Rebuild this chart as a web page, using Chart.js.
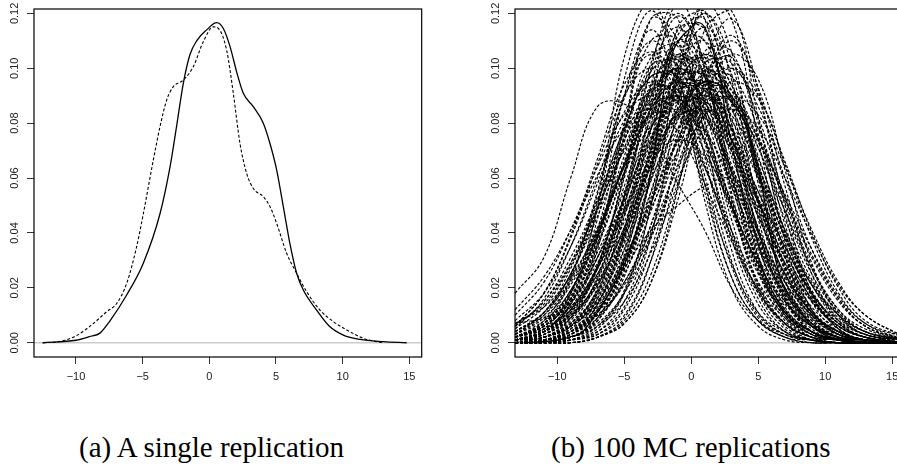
<!DOCTYPE html>
<html>
<head>
<meta charset="utf-8">
<script src="https://cdn.jsdelivr.net/npm/chart.js@4.4.1/dist/chart.umd.min.js"></script>
<style>
  html, body { margin: 0; padding: 0; background: #fff; }
  body { width: 897px; height: 468px; overflow: hidden; position: relative; }
  canvas { position: absolute; top: 0; }
  #panelA { left: 0; }
  #panelB { left: 475px; }
  .caption { position: absolute; top: 433px; font-family: "Liberation Serif", serif; font-size: 29px; line-height: 29px; color: #000; white-space: nowrap; }
</style>
</head>
<body>
<canvas id="panelA" width="424" height="387"></canvas>
<canvas id="panelB" width="432" height="387"></canvas>
<div class="caption" style="left:79px">(a) A single replication</div>
<div class="caption" style="left:551px">(b) 100 MC replications</div>
<script>
// axis limits and tick labels (same for both panels)
var xMin = -13.15, xMax = 15.93;
var yMin = -0.0052, yMax = 0.1216;
var xTicks = [-10, -5, 0, 5, 10, 15];
var yTicks = [0, 0.02, 0.04, 0.06, 0.08, 0.10, 0.12];

// panel (a): true density (solid) and one estimate (dashed)
var trueX = [-12.5, -10, -9, -8.2, -7.45, -6.2, -4.95, -3.7, -2.95, -2.45, -1.95, -1.45, -0.95, -0.2, 0.55, 1.05, 1.55, 2.05, 2.55, 3.3, 4.05, 4.55, 5.05, 5.55, 6.05, 6.55, 7.05, 8.05, 9.05, 10.05, 11.3, 13.05, 14.8];
var trueY = [0, 0.0009, 0.0022, 0.0035, 0.0080, 0.0174, 0.029, 0.047, 0.064, 0.079, 0.0945, 0.105, 0.110, 0.114, 0.1166, 0.1145, 0.108, 0.0987, 0.0909, 0.086, 0.080, 0.0726, 0.063, 0.0496, 0.036, 0.0253, 0.0192, 0.0119, 0.0058, 0.0028, 0.0012, 0.0004, 0];
var estX = [-12.5, -11.45, -10, -8.7, -7.7, -6.95, -6.2, -5.45, -4.95, -4.2, -3.7, -3.2, -2.7, -1.95, -1.2, -0.45, 0.3, 0.68, 1.3, 1.8, 2.3, 2.8, 3.3, 4.05, 4.55, 5.05, 5.8, 6.55, 7.3, 8.3, 9.3, 10.55, 11.55, 12.55, 13.05];
var estY = [0, 0.0003, 0.0025, 0.007, 0.0113, 0.0143, 0.0216, 0.035, 0.047, 0.0666, 0.0787, 0.0884, 0.0933, 0.0957, 0.1006, 0.1097, 0.1151, 0.1145, 0.1066, 0.0909, 0.0726, 0.0617, 0.0562, 0.0532, 0.0496, 0.0435, 0.0326, 0.0253, 0.0186, 0.0119, 0.0077, 0.004, 0.0016, 0.0004, 0];

// panel (b): 100 Monte Carlo estimates read on a common x grid
var mcX = [-13.15, -11, -9, -7, -5, -3, -1, 1, 3, 5, 7, 9, 11, 13, 15.93];
var mcCurves = [
  [0.006,0.018,0.038,0.065,0.090,0.100,0.090,0.065,0.038,0.018,0.007,0.002,0.001,0,0],
  [0.010,0.022,0.041,0.064,0.083,0.090,0.083,0.064,0.041,0.022,0.010,0.004,0.001,0,0],
  [0.002,0.007,0.023,0.054,0.090,0.110,0.096,0.061,0.028,0.009,0.002,0.001,0,0,0],
  [0.001,0.005,0.018,0.049,0.096,0.121,0.098,0.052,0.020,0.006,0.001,0,0,0,0],
  [0.005,0.016,0.035,0.060,0.084,0.095,0.087,0.064,0.039,0.019,0.007,0.002,0.001,0,0],
  [0.012,0.024,0.041,0.061,0.078,0.085,0.077,0.058,0.037,0.020,0.009,0.003,0.001,0,0],
  [0.002,0.008,0.024,0.055,0.089,0.105,0.089,0.055,0.024,0.008,0.002,0,0,0,0],
  [0.006,0.018,0.039,0.067,0.094,0.106,0.095,0.069,0.041,0.019,0.007,0.002,0.001,0,0],
  [0.004,0.011,0.027,0.051,0.078,0.097,0.097,0.078,0.051,0.027,0.011,0.004,0.001,0,0],
  [0.003,0.010,0.025,0.049,0.077,0.099,0.103,0.086,0.057,0.030,0.012,0.004,0.001,0,0],
  [0.006,0.015,0.031,0.052,0.074,0.088,0.088,0.074,0.052,0.031,0.015,0.006,0.002,0.001,0],
  [0.008,0.018,0.035,0.058,0.081,0.094,0.090,0.073,0.050,0.029,0.014,0.006,0.002,0.001,0],
  [0.001,0.004,0.016,0.041,0.080,0.110,0.110,0.080,0.041,0.016,0.004,0.001,0,0,0],
  [0.001,0.004,0.014,0.038,0.075,0.104,0.108,0.081,0.045,0.018,0.005,0.001,0,0,0],
  [0.001,0.003,0.011,0.034,0.076,0.118,0.118,0.076,0.034,0.011,0.003,0.001,0,0,0],
  [0.001,0.003,0.012,0.036,0.079,0.118,0.110,0.068,0.030,0.010,0.003,0.001,0,0,0],
  [0.003,0.011,0.025,0.048,0.074,0.092,0.092,0.074,0.048,0.025,0.011,0.004,0.001,0,0],
  [0.006,0.015,0.029,0.049,0.070,0.083,0.083,0.070,0.049,0.029,0.015,0.006,0.002,0.001,0],
  [0.007,0.014,0.029,0.052,0.078,0.097,0.096,0.077,0.050,0.026,0.011,0.004,0.001,0,0],
  [0.001,0.004,0.014,0.038,0.073,0.101,0.101,0.073,0.038,0.014,0.004,0.001,0,0,0],
  [0.005,0.013,0.028,0.049,0.071,0.086,0.089,0.078,0.057,0.035,0.018,0.007,0.003,0.001,0],
  [0.002,0.007,0.018,0.038,0.065,0.090,0.100,0.090,0.065,0.038,0.018,0.007,0.002,0,0],
  [0.002,0.006,0.016,0.035,0.062,0.088,0.104,0.097,0.071,0.042,0.020,0.008,0.002,0.001,0],
  [0.003,0.008,0.019,0.039,0.065,0.087,0.095,0.083,0.059,0.034,0.016,0.006,0.002,0,0],
  [0.004,0.010,0.022,0.041,0.064,0.083,0.090,0.083,0.064,0.041,0.022,0.010,0.004,0.001,0],
  [0.003,0.009,0.021,0.040,0.064,0.085,0.095,0.089,0.070,0.046,0.025,0.011,0.004,0.001,0],
  [0.007,0.013,0.024,0.041,0.062,0.079,0.085,0.077,0.059,0.038,0.020,0.009,0.003,0.001,0],
  [0.001,0.002,0.009,0.027,0.061,0.099,0.115,0.097,0.059,0.026,0.008,0.002,0,0,0],
  [0,0.002,0.007,0.023,0.054,0.090,0.110,0.097,0.062,0.029,0.010,0.003,0.001,0,0],
  [0.001,0.003,0.010,0.028,0.060,0.093,0.104,0.084,0.050,0.022,0.007,0.002,0,0,0],
  [0,0.001,0.006,0.020,0.053,0.100,0.125,0.100,0.053,0.020,0.006,0.001,0,0,0],
  [0,0.001,0.005,0.018,0.049,0.094,0.119,0.100,0.055,0.021,0.007,0.001,0,0,0],
  [0.002,0.007,0.019,0.039,0.066,0.091,0.099,0.088,0.063,0.037,0.018,0.007,0.002,0.001,0],
  [0.002,0.006,0.017,0.036,0.062,0.085,0.095,0.085,0.062,0.036,0.017,0.006,0.002,0,0],
  [0.004,0.011,0.023,0.042,0.065,0.084,0.090,0.082,0.063,0.040,0.022,0.010,0.004,0.001,0],
  [0,0.002,0.009,0.028,0.062,0.102,0.120,0.102,0.062,0.028,0.009,0.002,0,0,0],
  [0.002,0.007,0.019,0.040,0.068,0.094,0.105,0.094,0.068,0.040,0.019,0.007,0.002,0.001,0],
  [0.004,0.011,0.025,0.046,0.071,0.092,0.100,0.092,0.071,0.046,0.025,0.011,0.004,0.001,0],
  [0.001,0.002,0.008,0.024,0.053,0.086,0.100,0.088,0.060,0.031,0.011,0.003,0.001,0,0],
  [0.001,0.004,0.011,0.027,0.051,0.078,0.097,0.097,0.078,0.051,0.027,0.011,0.004,0.001,0],
  [0.002,0.005,0.014,0.031,0.057,0.086,0.105,0.098,0.075,0.047,0.024,0.010,0.003,0.001,0],
  [0.001,0.003,0.009,0.023,0.046,0.073,0.091,0.095,0.078,0.052,0.029,0.013,0.005,0.001,0],
  [0.002,0.006,0.015,0.031,0.052,0.074,0.088,0.088,0.074,0.052,0.031,0.015,0.006,0.002,0],
  [0.002,0.005,0.013,0.027,0.047,0.068,0.082,0.085,0.074,0.055,0.035,0.018,0.008,0.003,0.001],
  [0.002,0.007,0.016,0.033,0.055,0.078,0.093,0.093,0.078,0.055,0.033,0.016,0.007,0.002,0],
  [0,0.001,0.004,0.016,0.041,0.080,0.110,0.110,0.080,0.041,0.016,0.004,0.001,0,0],
  [0.001,0.002,0.006,0.019,0.046,0.083,0.110,0.102,0.070,0.036,0.013,0.004,0.001,0,0],
  [0,0.001,0.003,0.012,0.034,0.069,0.099,0.104,0.077,0.041,0.016,0.005,0.001,0,0],
  [0,0.001,0.004,0.014,0.041,0.087,0.125,0.118,0.073,0.031,0.010,0.002,0,0,0],
  [0,0,0.002,0.009,0.030,0.071,0.115,0.121,0.080,0.036,0.012,0.003,0.001,0,0],
  [0.007,0.009,0.013,0.028,0.051,0.078,0.097,0.097,0.078,0.051,0.027,0.011,0.004,0.001,0],
  [0.001,0.004,0.012,0.028,0.053,0.082,0.102,0.102,0.082,0.053,0.028,0.012,0.004,0.001,0],
  [0.002,0.006,0.015,0.031,0.053,0.075,0.089,0.087,0.072,0.051,0.031,0.015,0.006,0.002,0],
  [0,0.001,0.003,0.014,0.039,0.078,0.112,0.118,0.087,0.045,0.017,0.004,0.001,0,0],
  [0,0.001,0.004,0.014,0.037,0.071,0.095,0.093,0.074,0.040,0.015,0.004,0.001,0,0],
  [0.001,0.004,0.011,0.025,0.048,0.074,0.092,0.092,0.074,0.048,0.025,0.011,0.004,0.001,0],
  [0,0.001,0.003,0.011,0.032,0.073,0.114,0.114,0.073,0.032,0.011,0.003,0.001,0,0],
  [0.002,0.006,0.015,0.029,0.049,0.070,0.083,0.083,0.070,0.049,0.029,0.015,0.006,0.002,0],
  [0.001,0.002,0.007,0.018,0.038,0.065,0.090,0.100,0.090,0.065,0.038,0.018,0.007,0.002,0],
  [0.001,0.003,0.009,0.021,0.042,0.070,0.095,0.104,0.089,0.061,0.034,0.016,0.006,0.002,0],
  [0,0.002,0.006,0.016,0.034,0.059,0.083,0.095,0.089,0.067,0.041,0.021,0.008,0.003,0],
  [0.001,0.004,0.010,0.022,0.041,0.064,0.083,0.090,0.083,0.064,0.041,0.022,0.010,0.004,0.001],
  [0.001,0.004,0.010,0.022,0.042,0.065,0.085,0.095,0.090,0.071,0.048,0.027,0.012,0.005,0.001],
  [0.001,0.004,0.010,0.021,0.039,0.060,0.078,0.085,0.078,0.060,0.039,0.021,0.010,0.004,0.001],
  [0,0,0.002,0.009,0.028,0.062,0.102,0.120,0.102,0.062,0.028,0.009,0.002,0,0],
  [0,0.001,0.003,0.011,0.031,0.066,0.100,0.110,0.088,0.052,0.022,0.007,0.002,0,0],
  [0,0.001,0.002,0.008,0.024,0.055,0.088,0.105,0.094,0.065,0.033,0.012,0.003,0.001,0],
  [0,0,0.001,0.005,0.018,0.050,0.098,0.124,0.106,0.058,0.023,0.007,0.002,0,0],
  [0,0,0.001,0.006,0.019,0.050,0.096,0.120,0.096,0.050,0.019,0.006,0.001,0,0],
  [0,0.002,0.007,0.018,0.039,0.066,0.091,0.099,0.088,0.064,0.038,0.018,0.007,0.002,0.001],
  [0,0.002,0.006,0.017,0.036,0.062,0.085,0.095,0.085,0.062,0.036,0.017,0.006,0.002,0],
  [0.002,0.005,0.012,0.025,0.044,0.066,0.084,0.090,0.081,0.061,0.039,0.021,0.009,0.003,0.001],
  [0,0,0.002,0.008,0.026,0.060,0.098,0.115,0.098,0.060,0.026,0.008,0.002,0,0],
  [0.001,0.002,0.007,0.019,0.040,0.068,0.094,0.105,0.094,0.068,0.040,0.019,0.007,0.002,0],
  [0,0.001,0.004,0.011,0.027,0.051,0.078,0.097,0.097,0.078,0.051,0.027,0.011,0.004,0.001],
  [0,0.001,0.005,0.013,0.030,0.055,0.081,0.095,0.090,0.071,0.045,0.023,0.010,0.003,0.001],
  [0.001,0.002,0.006,0.015,0.031,0.052,0.074,0.088,0.088,0.074,0.052,0.031,0.015,0.006,0.001],
  [0.001,0.002,0.006,0.014,0.029,0.049,0.070,0.083,0.085,0.073,0.054,0.034,0.017,0.007,0.002],
  [0,0,0.001,0.004,0.015,0.040,0.076,0.106,0.106,0.076,0.040,0.015,0.004,0.001,0],
  [0,0,0.001,0.004,0.013,0.039,0.086,0.125,0.118,0.074,0.032,0.010,0.003,0.001,0],
  [0,0,0.001,0.003,0.012,0.034,0.068,0.098,0.104,0.080,0.043,0.017,0.005,0.001,0],
  [0,0.001,0.004,0.012,0.028,0.053,0.082,0.102,0.102,0.082,0.053,0.028,0.012,0.004,0.001],
  [0,0,0,0.002,0.009,0.030,0.071,0.114,0.121,0.082,0.037,0.012,0.003,0.001,0],
  [0.001,0.002,0.006,0.015,0.030,0.051,0.073,0.087,0.089,0.075,0.053,0.032,0.016,0.006,0.001],
  [0,0.001,0.004,0.011,0.025,0.048,0.074,0.092,0.092,0.074,0.048,0.025,0.011,0.004,0.001],
  [0,0.001,0.002,0.006,0.018,0.043,0.076,0.099,0.092,0.063,0.031,0.011,0.003,0.001,0],
  [0,0.001,0.002,0.007,0.018,0.038,0.065,0.090,0.100,0.090,0.065,0.038,0.018,0.007,0.001],
  [0,0.001,0.004,0.010,0.022,0.041,0.064,0.083,0.090,0.083,0.064,0.041,0.022,0.010,0.002],
  [0,0,0,0.002,0.008,0.025,0.057,0.093,0.110,0.093,0.057,0.025,0.008,0.002,0],
  [0,0,0,0.002,0.007,0.022,0.056,0.101,0.118,0.092,0.047,0.018,0.005,0.001,0],
  [0,0,0.002,0.006,0.015,0.033,0.058,0.083,0.095,0.089,0.066,0.040,0.020,0.008,0.002],
  [0,0.001,0.004,0.010,0.021,0.039,0.060,0.078,0.085,0.078,0.060,0.039,0.021,0.010,0.002],
  [0,0,0,0.002,0.007,0.022,0.052,0.088,0.105,0.096,0.063,0.029,0.010,0.003,0.001],
  [0,0.001,0.003,0.009,0.022,0.043,0.070,0.093,0.100,0.086,0.060,0.034,0.016,0.006,0.001],
  [0.018,0.031,0.060,0.086,0.087,0.076,0.058,0.041,0.020,0.008,0.003,0.001,0,0,0],
  [0.002,0.006,0.018,0.045,0.090,0.114,0.093,0.058,0.029,0.011,0.004,0.001,0,0,0],
  [0.001,0.004,0.015,0.050,0.104,0.124,0.100,0.058,0.024,0.008,0.002,0,0,0,0],
  [0,0,0.001,0.003,0.010,0.030,0.062,0.095,0.112,0.090,0.050,0.018,0.005,0.001,0],
  [0,0.001,0.004,0.012,0.027,0.041,0.050,0.057,0.060,0.052,0.035,0.018,0.007,0.002,0],
  [0.002,0.005,0.012,0.027,0.048,0.066,0.074,0.068,0.050,0.028,0.012,0.004,0.001,0,0]
];

function pts(xs, ys) {
  return xs.map(function (x, i) { return { x: x, y: ys[i] }; });
}

function zeroLine() {
  return { data: [{ x: xMin, y: 0 }, { x: xMax, y: 0 }], borderColor: '#cccccc', borderWidth: 1.3, pointRadius: 0 };
}

// box around the plot region and rotated y tick labels, R style
var framePlugin = {
  id: 'frame',
  afterDraw: function (chart) {
    var ctx = chart.ctx, a = chart.chartArea, ys = chart.scales.y;
    ctx.save();
    ctx.strokeStyle = '#000';
    ctx.lineWidth = 1.2;
    ctx.strokeRect(a.left, a.top, a.right - a.left, a.bottom - a.top);
    ctx.font = '11px "Liberation Sans", Arial, sans-serif';
    ctx.fillStyle = '#222';
    ctx.textAlign = 'center';
    ctx.textBaseline = 'middle';
    yTicks.forEach(function (v) {
      ctx.save();
      ctx.translate(a.left - 19, ys.getPixelForValue(v));
      ctx.rotate(-Math.PI / 2);
      ctx.fillText(v.toFixed(2), 0, 0);
      ctx.restore();
    });
    ctx.restore();
  }
};

function makeOptions(yWidth, rightPad) {
  return {
    responsive: false,
    animation: false,
    events: [],
    layout: { padding: { top: 9, right: rightPad, left: 0, bottom: 0 } },
    plugins: { legend: { display: false }, tooltip: { enabled: false } },
    scales: {
      x: {
        type: 'linear', min: xMin, max: xMax,
        afterBuildTicks: function (s) { s.ticks = xTicks.map(function (v) { return { value: v }; }); },
        afterFit: function (s) { s.height = 30; },
        border: { display: false },
        grid: { drawOnChartArea: false, drawTicks: true, tickLength: 7, color: '#333' },
        ticks: {
          autoSkip: false, maxRotation: 0, padding: 6, color: '#222',
          font: { family: '"Liberation Sans", Arial, sans-serif', size: 11 },
          callback: function (v) { return v < 0 ? '\u2212' + Math.abs(v) : String(v); }
        }
      },
      y: {
        type: 'linear', min: yMin, max: yMax,
        afterBuildTicks: function (s) { s.ticks = yTicks.map(function (v) { return { value: v }; }); },
        afterFit: function (s) { s.width = yWidth; },
        border: { display: false },
        grid: { drawOnChartArea: false, drawTicks: true, tickLength: 7, color: '#333' },
        ticks: { display: false }
      }
    }
  };
}

new Chart(document.getElementById('panelA'), {
  type: 'line',
  data: {
    datasets: [
      { data: pts(trueX, trueY), borderColor: '#000', borderWidth: 1.3, pointRadius: 0, cubicInterpolationMode: 'monotone' },
      { data: pts(estX, estY), borderColor: '#000', borderWidth: 1.1, borderDash: [3, 2], pointRadius: 0, cubicInterpolationMode: 'monotone' },
      zeroLine()
    ]
  },
  options: makeOptions(34, 2.3),
  plugins: [framePlugin]
});

var mcSets = mcCurves.map(function (ys) {
  return { data: pts(mcX, ys), borderColor: '#000', borderWidth: 1.15, borderDash: [3, 1.8], pointRadius: 0, tension: 0.4 };
});
mcSets.unshift({ data: pts(trueX, trueY), borderColor: '#000', borderWidth: 1.3, pointRadius: 0, cubicInterpolationMode: 'monotone' });
mcSets.push(zeroLine());

new Chart(document.getElementById('panelB'), {
  type: 'line',
  data: { datasets: mcSets },
  options: makeOptions(40, 2.3),
  plugins: [framePlugin]
});
</script>
</body>
</html>
